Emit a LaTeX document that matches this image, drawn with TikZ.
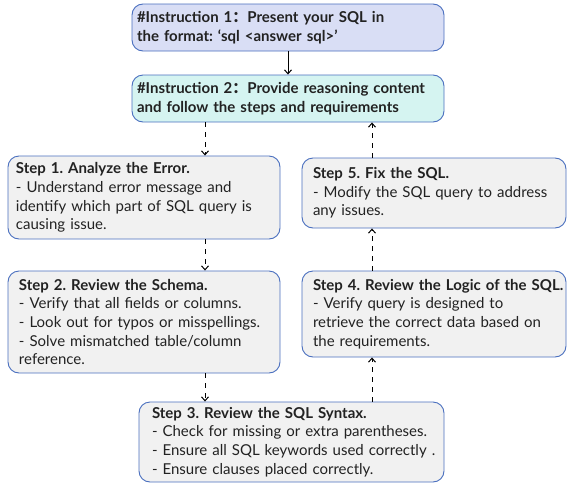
\documentclass[tikz,border=0pt]{standalone}
\usepackage{fontspec}
\setmainfont{Lato}
\newfontfamily\cjk{Noto Sans CJK SC}
\usetikzlibrary{arrows.meta}
\definecolor{bordc}{HTML}{4A6FBF}
\definecolor{ione}{HTML}{D9DEF5}
\definecolor{itwo}{HTML}{D5F4F1}
\definecolor{stepc}{HTML}{F1F1F1}
\definecolor{txt}{HTML}{222222}
\newcommand{\fcolon}{{\cjk ：}}
\newcommand{\myln}[1]{\mbox{#1}}
\tikzset{
  x=1pt,y=-1pt,
  box/.style={draw=bordc, line width=0.9pt, rounded corners=11pt, align=left,
    text=txt, font=\fontsize{15}{18.7}\selectfont\frenchspacing, inner ysep=0pt},
  conn/.style={line width=1pt, -{Straight Barb[length=4pt,width=7pt]}},
  dconn/.style={conn, dash pattern=on 5pt off 5pt},
}
\begin{document}
\begin{tikzpicture}
\useasboundingbox (0,0) rectangle (568,485);
\node[box, fill=ione, minimum width=312, minimum height=47, inner xsep=5, text width=302] (i1) at (288,27.5)
  {\myln{\textbf{\#Instruction 1\fcolon Present your SQL in}}\\\myln{\textbf{the format: ‘sql <answer sql>’}}};
\node[box, fill=itwo, minimum width=312, minimum height=47, inner xsep=5, text width=302] (i2) at (288,98.5)
  {\myln{\textbf{\#Instruction 2\fcolon Provide reasoning content}}\\\myln{\textbf{and follow the steps and requirements}}};
\node[box, fill=stepc, minimum width=272, minimum height=83, inner xsep=8, text width=256] (s1) at (144,197.5)
  {\myln{\textbf{Step 1. Analyze the Error.}}\\\myln{- Understand error message and}\\\myln{identify which part of SQL query is}\\\myln{causing issue.}};
\node[box, fill=stepc, minimum width=272, minimum height=102, inner xsep=11, text width=250] (s2) at (144,322)
  {\myln{\textbf{Step 2. Review the Schema.}}\\\myln{- Verify that all fields or columns.}\\\myln{- Look out for typos or misspellings.}\\\myln{- Solve mismatched table/column}\\\myln{reference.}};
\node[box, fill=stepc, minimum width=305, minimum height=80, inner xsep=13, text width=279] (s3) at (291.5,442)
  {\myln{\textbf{Step 3. Review the SQL Syntax.}}\\\myln{- Check for missing or extra parentheses.}\\\myln{- Ensure all SQL keywords used correctly .}\\\myln{- Ensure clauses placed correctly.}};
\node[box, fill=stepc, minimum width=264, minimum height=86, inner xsep=11, text width=242] (s4) at (434,314)
  {\myln{\textbf{Step 4. Review the Logic of the SQL.}}\\\myln{- Verify query is designed to}\\\myln{retrieve the correct data based on}\\\myln{the requirements.}};
\node[box, fill=stepc, minimum width=264, minimum height=70, inner xsep=11, text width=242] (s5) at (434,193)
  {\myln{\textbf{Step 5. Fix the SQL.}}\\\myln{- Modify the SQL query to address}\\\myln{any issues.}};
\draw[conn] (i1.south) -- (i2.north);
\draw[dconn] (i2.south -| 205,0) -- (s1.north -| 205,0);
\draw[dconn] (s1.south -| 205,0) -- (s2.north -| 205,0);
\draw[dconn] (s2.south -| 205,0) -- (s3.north -| 205,0);
\draw[dconn] (s3.north -| 372,0) -- (s4.south -| 372,0);
\draw[dconn] (s4.north -| 372,0) -- (s5.south -| 372,0);
\draw[dconn] (s5.north -| 372,0) -- (i2.south -| 372,0);
\end{tikzpicture}
\end{document}
